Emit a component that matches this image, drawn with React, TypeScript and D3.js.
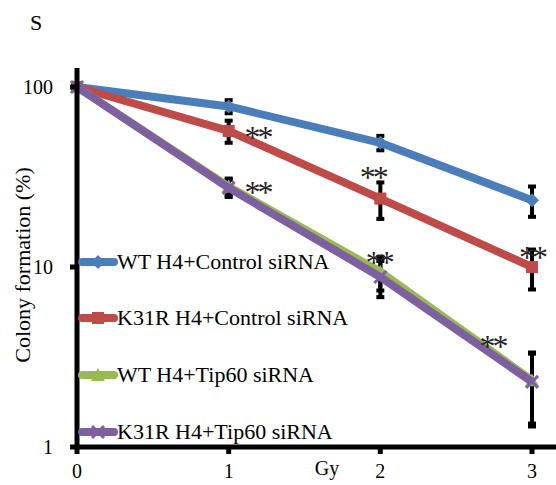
import React from "react";
import * as d3 from "d3";

const doses = [0, 1, 2, 3];
const seriesNames = [
  "WT H4+Control siRNA",
  "K31R H4+Control siRNA",
  "WT H4+Tip60 siRNA",
  "K31R H4+Tip60 siRNA",
];
const wtControl = [100, 78, 49, 23.5];
const k31rControl = [100, 57, 24, 10];
const wtTip60 = [100, 28, 9.4, 2.35];
const k31rTip60 = [100, 27.5, 8.8, 2.3];
const wtControlErr = [0, 6.5, 4.5, 4.5];
const k31rControlErr = [0, 8, 5.5, 2.5];
const wtTip60Err = [0, 3, 2, 1];
const k31rTip60Err = [0, 3, 2, 1];
const yTicks = [1, 10, 100];
// "**" marks, centre given as [dose, value]
const starDose = [1.19, 1.19, 1.95, 1.99, 3.0, 2.74];
const starValue = [55.5, 27.5, 33.3, 11.2, 12, 3.83];

const colors = ["#4A7EBB", "#BE4B48", "#98B954", "#7D60A0"];
const markers = ["diamond", "square", "triangle", "x"];

const W = 556;
const H = 485;
const font = "'Liberation Serif', 'Times New Roman', serif";

const Marker = ({ kind, x, y, color }) => {
  if (kind === "diamond")
    return <path d={`M${x},${y - 7}L${x + 7},${y}L${x},${y + 7}L${x - 7},${y}Z`} fill={color} />;
  if (kind === "square") return <rect x={x - 6} y={y - 6} width={12} height={12} fill={color} />;
  if (kind === "triangle")
    return <path d={`M${x},${y - 7}L${x + 7},${y + 6}L${x - 7},${y + 6}Z`} fill={color} />;
  return (
    <path
      d={`M${x - 6},${y - 6}L${x + 6},${y + 6}M${x - 6},${y + 6}L${x + 6},${y - 6}`}
      stroke={color}
      strokeWidth={3}
    />
  );
};

export default function App() {
  const x = d3.scaleLinear().domain([0, 3]).range([77, 532]);
  const y = d3.scaleLog().domain([1, 100]).range([447, 87]);
  const all = [wtControl, k31rControl, wtTip60, k31rTip60];
  const errs = [wtControlErr, k31rControlErr, wtTip60Err, k31rTip60Err];
  const line = d3
    .line<number>()
    .x((_, i) => x(doses[i]))
    .y((d) => y(d));
  const legendY = [262, 318, 375, 432];

  return (
    <svg width={W} height={H} style={{ position: "absolute", left: 0, top: 0 }}>
      <rect width={W} height={H} fill="#fff" />
      <text x={36} y={30} fontFamily={font} fontSize={22} textAnchor="middle">
        S
      </text>
      {/* error bars */}
      {all.map((vals, s) =>
        vals.map((v, i) =>
          errs[s][i] > 0 ? (
            <g key={`e${s}-${i}`} stroke="#000" strokeWidth={4}>
              <line x1={x(doses[i])} x2={x(doses[i])} y1={y(v + errs[s][i])} y2={y(v - errs[s][i])} />
              <line x1={x(doses[i]) - 4} x2={x(doses[i]) + 4} y1={y(v + errs[s][i])} y2={y(v + errs[s][i])} />
              <line x1={x(doses[i]) - 4} x2={x(doses[i]) + 4} y1={y(v - errs[s][i])} y2={y(v - errs[s][i])} />
            </g>
          ) : null
        )
      )}
      {/* lines */}
      {all.map((vals, s) => (
        <g key={`s${s}`}>
          <path d={line(vals) || ""} fill="none" stroke={colors[s]} strokeWidth={8} strokeLinejoin="round" />
          {vals.map((v, i) => (
            <Marker key={i} kind={markers[s]} x={x(doses[i])} y={y(v)} color={colors[s]} />
          ))}
        </g>
      ))}
      {/* asterisks */}
      {starDose.map((d, i) => (
        <text
          key={`st${i}`}
          x={x(d)}
          y={y(starValue[i]) + 15}
          fontFamily={font}
          fontSize={32}
          letterSpacing={-3}
          textAnchor="middle"
          fill="#222"
        >
          **
        </text>
      ))}
      {/* axes */}
      <line x1={77} x2={77} y1={68} y2={449} stroke="#000" strokeWidth={5} />
      <line x1={75} x2={W} y1={447} y2={447} stroke="#000" strokeWidth={5} />
      {yTicks.map((t) => (
        <g key={`yt${t}`}>
          <line x1={70} x2={77} y1={y(t)} y2={y(t)} stroke="#000" strokeWidth={5} />
          <text x={53} y={y(t) + 7} fontFamily={font} fontSize={20} textAnchor="end">
            {t}
          </text>
        </g>
      ))}
      {doses.map((t) => (
        <g key={`xt${t}`}>
          <line x1={x(t)} x2={x(t)} y1={447} y2={454} stroke="#000" strokeWidth={5} />
          <text x={x(t)} y={478} fontFamily={font} fontSize={20} textAnchor="middle">
            {t}
          </text>
        </g>
      ))}
      <text x={327} y={475} fontFamily={font} fontSize={20} textAnchor="middle">
        Gy
      </text>
      <text
        transform={`translate(30,265) rotate(-90)`}
        fontFamily={font}
        fontSize={22}
        textAnchor="middle"
      >
        Colony formation (%)
      </text>
      {/* legend */}
      {seriesNames.map((n, s) => (
        <g key={`lg${s}`}>
          <line x1={82} x2={114} y1={legendY[s]} y2={legendY[s]} stroke={colors[s]} strokeWidth={8} strokeLinecap="round" />
          <Marker kind={markers[s]} x={98} y={legendY[s]} color={colors[s]} />
          <text x={117} y={legendY[s] + 7} fontFamily={font} fontSize={22}>
            {n}
          </text>
        </g>
      ))}
    </svg>
  );
}
